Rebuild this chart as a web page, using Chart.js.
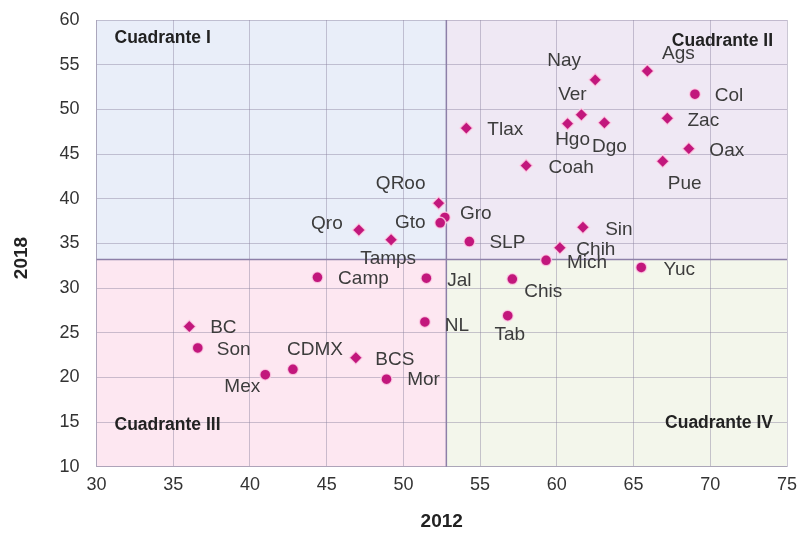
<!DOCTYPE html>
<html>
<head>
<meta charset="utf-8">
<script src="https://cdn.jsdelivr.net/npm/chart.js@4/dist/chart.umd.min.js"></script>
<style>
  html, body { margin: 0; padding: 0; background: #fff; }
</style>
</head>
<body>
<canvas id="quadChart" width="799" height="533"></canvas>
<script>
// Datos por estado: valor 2012 (eje x) y valor 2018 (eje y)
const estados = ['Ags', 'Nay', 'Col', 'Ver', 'Hgo', 'Dgo', 'Zac', 'Tlax', 'Oax', 'Pue', 'Coah',
  'QRoo', 'Gro', 'Gto', 'Qro', 'Tamps', 'SLP', 'Sin', 'Chih', 'Mich', 'Yuc', 'Camp', 'Jal',
  'Chis', 'NL', 'Tab', 'BC', 'Son', 'CDMX', 'BCS', 'Mex', 'Mor'];
const valores2012 = [65.9, 62.5, 69.0, 61.6, 60.7, 63.1, 67.2, 54.1, 68.6, 66.9, 58.0,
  52.3, 52.7, 52.4, 47.1, 49.2, 54.3, 61.7, 60.2, 59.3, 65.5, 44.4, 51.5,
  57.1, 51.4, 56.8, 36.05, 36.6, 42.8, 46.9, 41.0, 48.9];
const valores2018 = [54.3, 53.3, 51.7, 49.4, 48.4, 48.5, 49.0, 47.9, 45.6, 44.2, 43.7,
  39.5, 37.9, 37.3, 36.5, 35.4, 35.2, 36.8, 34.5, 33.1, 32.3, 31.2, 31.1,
  31.0, 26.2, 26.9, 25.7, 23.3, 20.9, 22.2, 20.3, 19.8];
const formas = ['rombo', 'rombo', 'circulo', 'rombo', 'rombo', 'rombo', 'rombo', 'rombo', 'rombo', 'rombo', 'rombo',
  'rombo', 'circulo', 'circulo', 'rombo', 'rombo', 'circulo', 'rombo', 'rombo', 'circulo', 'circulo', 'circulo', 'circulo',
  'circulo', 'circulo', 'circulo', 'rombo', 'circulo', 'circulo', 'rombo', 'circulo', 'circulo'];

// Ejes
const xMin = 30, xMax = 75, xPaso = 5;
const yMin = 10, yMax = 60, yPaso = 5;
const corteX = 52.8; // division de cuadrantes
const corteY = 33.2;
const cuadrantes = ['Cuadrante I', 'Cuadrante II', 'Cuadrante III', 'Cuadrante IV'];

// Desplazamiento de cada etiqueta respecto a su punto (px)
const desplazaEtiqueta = [[31, -17], [-31, -19], [34, 2], [-9, -20], [5, 16], [5, 24], [36, 2], [39, 2], [38, 2], [22, 23], [45, 2],
  [-38, -19], [31, -4], [-30, 0], [-32, -6], [-3, 19], [38, 1], [36, 2], [36, 2], [41, 2], [38, 2], [46, 1], [33, 3],
  [31, 13], [32, 4], [2, 19], [34, 1], [36, 2], [22, -20], [39, 2], [-23, 12], [37, 1]];

const colores = {
  q1: '#e9eef9', q2: '#efe8f4', q3: '#fde7f1', q4: '#f3f6eb',
  divisor: '#8d7fa8', rejilla: 'rgba(140,130,160,0.45)', punto: '#c2177c', texto: '#3c3c3c'
};

// Fondos, divisores, textos de cuadrante y etiquetas
const cuadrantePlugin = {
  id: 'cuadrantes',
  beforeDraw(chart) {
    const {ctx, chartArea: a, scales: {x, y}} = chart;
    const cx = x.getPixelForValue(corteX), cy = y.getPixelForValue(corteY);
    ctx.save();
    ctx.fillStyle = colores.q1; ctx.fillRect(a.left, a.top, cx - a.left, cy - a.top);
    ctx.fillStyle = colores.q2; ctx.fillRect(cx, a.top, a.right - cx, cy - a.top);
    ctx.fillStyle = colores.q3; ctx.fillRect(a.left, cy, cx - a.left, a.bottom - cy);
    ctx.fillStyle = colores.q4; ctx.fillRect(cx, cy, a.right - cx, a.bottom - cy);
    ctx.restore();
  },
  beforeDatasetsDraw(chart) {
    const {ctx, chartArea: a, scales: {x, y}} = chart;
    const cx = x.getPixelForValue(corteX), cy = y.getPixelForValue(corteY);
    ctx.save();
    ctx.strokeStyle = colores.divisor;
    ctx.lineWidth = 1.5;
    ctx.beginPath();
    ctx.moveTo(cx, a.top); ctx.lineTo(cx, a.bottom);
    ctx.moveTo(a.left, cy); ctx.lineTo(a.right, cy);
    ctx.stroke();

    ctx.fillStyle = '#222';
    ctx.font = 'bold 17.5px "Liberation Sans", Arial, sans-serif';
    ctx.textBaseline = 'middle';
    ctx.textAlign = 'left';
    ctx.fillText(cuadrantes[0], a.left + 18, a.top + 18);
    ctx.fillText(cuadrantes[2], a.left + 18, a.bottom - 42);
    ctx.textAlign = 'right';
    ctx.fillText(cuadrantes[1], a.right - 14, a.top + 21);
    ctx.fillText(cuadrantes[3], a.right - 14, a.bottom - 44);

    // titulo eje y
    ctx.font = 'bold 19px "Liberation Sans", Arial, sans-serif';
    ctx.textAlign = 'center';
    ctx.translate(22, 258);
    ctx.rotate(-Math.PI / 2);
    ctx.fillText('2018', 0, 0);
    ctx.restore();
  },
  afterDatasetsDraw(chart) {
    const {ctx} = chart;
    const meta = chart.getDatasetMeta(0);
    ctx.save();
    ctx.fillStyle = colores.texto;
    ctx.font = '19px "Liberation Sans", Arial, sans-serif';
    ctx.textAlign = 'center';
    ctx.textBaseline = 'middle';
    meta.data.forEach((pt, i) => {
      const [dx, dy] = desplazaEtiqueta[i];
      ctx.fillText(estados[i], pt.x + dx, pt.y + dy);
    });
    ctx.restore();
  }
};

const ctx = document.getElementById('quadChart').getContext('2d');
new Chart(ctx, {
  type: 'scatter',
  data: {
    datasets: [{
      data: estados.map((e, i) => ({x: valores2012[i], y: valores2018[i]})),
      pointStyle: formas.map(f => f === 'rombo' ? 'rectRot' : 'circle'),
      pointRadius: formas.map(f => f === 'rombo' ? 6.5 : 5.5),
      backgroundColor: colores.punto,
      borderColor: 'rgba(255,215,235,0.8)',
      borderWidth: 1.5
    }]
  },
  options: {
    responsive: false,
    animation: false,
    layout: { padding: { left: 0, right: 12, top: 20, bottom: 0 } },
    plugins: { legend: { display: false }, tooltip: { enabled: false } },
    scales: {
      x: {
        min: xMin, max: xMax,
        ticks: { stepSize: xPaso, color: '#333', padding: 8,
          font: { family: '"Liberation Sans", Arial, sans-serif', size: 18 } },
        grid: { color: colores.rejilla, drawTicks: false },
        border: { color: colores.rejilla },
        title: { display: true, text: '2012', color: '#222', padding: { top: 0, bottom: 0 },
          font: { family: '"Liberation Sans", Arial, sans-serif', size: 19, weight: 'bold' } },
        afterFit(s) { s.height = 66.3; s.paddingLeft = 0; s.paddingRight = 0; }
      },
      y: {
        min: yMin, max: yMax,
        ticks: { stepSize: yPaso, color: '#333', padding: 17,
          font: { family: '"Liberation Sans", Arial, sans-serif', size: 18 } },
        grid: { color: colores.rejilla, drawTicks: false },
        border: { color: colores.rejilla },
        afterFit(s) { s.width = 96.5; s.paddingTop = 0; s.paddingBottom = 0; }
      }
    }
  },
  plugins: [cuadrantePlugin]
});
</script>
</body>
</html>
